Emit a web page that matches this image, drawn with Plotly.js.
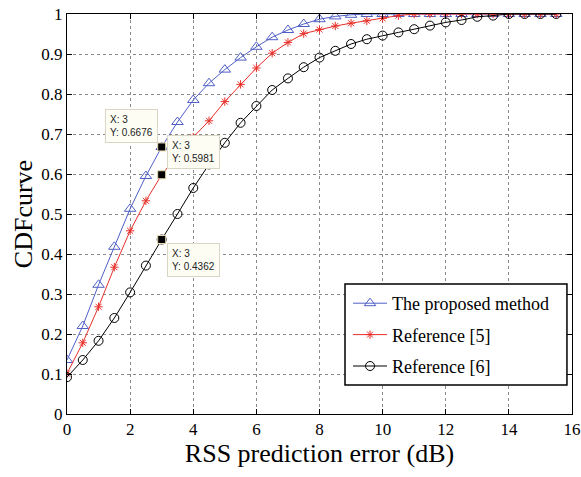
<!DOCTYPE html>
<html>
<head>
<meta charset="utf-8">
<script src="https://cdn.plot.ly/plotly-3.0.1.min.js"></script>
<style>html,body{margin:0;padding:0;background:#fff;}#chart{width:581px;height:477px;}</style>
</head>
<body>
<div id="chart"></div>
<script>
// Data
const errDB = [0,0.5,1,1.5,2,2.5,3,3.5,4,4.5,5,5.5,6,6.5,7,7.5,8,8.5,9,9.5,10,10.5,11,11.5,12,12.5,13,13.5,14,14.5,15,15.5];
const proposed = [0.135,0.220,0.323,0.418,0.513,0.595,0.6676,0.730,0.785,0.827,0.861,0.891,0.918,0.942,0.960,0.975,0.987,0.994,0.998,1,1,1,1,1,1,1,1,1,1,1,1,1];
const ref5 = [0.101,0.178,0.268,0.367,0.458,0.533,0.5981,0.647,0.692,0.733,0.781,0.824,0.865,0.902,0.929,0.951,0.961,0.970,0.977,0.983,0.989,0.996,1,1,1,1,1,1,1,1,1,1];
const ref6 = [0.092,0.135,0.183,0.240,0.304,0.371,0.4362,0.500,0.565,0.624,0.678,0.728,0.770,0.810,0.839,0.867,0.891,0.908,0.925,0.937,0.946,0.954,0.962,0.971,0.979,0.985,0.993,0.996,1,1,1,1];
const seriesNames = ["The proposed method","Reference [5]","Reference [6]"];
const tipX = [3,3,3];
const tipY = [0.6676,0.5981,0.4362];
const xTicks = [0,2,4,6,8,10,12,14,16];
const yTicks = [0,0.1,0.2,0.3,0.4,0.5,0.6,0.7,0.8,0.9,1];

const serif = "Liberation Serif, Times New Roman, serif";

const traces = [
  {x: errDB, y: proposed, name: seriesNames[0], mode: "lines+markers", legendgroup: "a",
   line: {color: "#4f5fc6", width: 1},
   marker: {symbol: "triangle-up-open", size: 10, color: "#4f5fc6", line: {width: 1}}},
  {x: errDB, y: ref5, name: seriesNames[1], mode: "lines+markers", legendgroup: "b",
   line: {color: "#e8302a", width: 1},
   marker: {symbol: "asterisk-open", size: 7, color: "#e8302a", line: {width: 1, color: "#e8302a"}}},
  {x: errDB, y: ref6, name: seriesNames[2], mode: "lines+markers", legendgroup: "c",
   line: {color: "#000000", width: 1},
   marker: {symbol: "circle-open", size: 9, color: "#000000", line: {width: 1}}},
  {x: tipX, y: tipY, mode: "markers", showlegend: false, hoverinfo: "skip",
   marker: {symbol: "square", size: 8, color: "#000000", line: {width: 1, color: "#e8dcb0"}}}
];

function tipText(i){ return "X: " + tipX[i] + "<br>Y: " + tipY[i].toFixed(4); }
const tipStyle = {xref: "x", yref: "y", showarrow: false, align: "left",
  font: {family: "Liberation Sans, Arial, sans-serif", size: 10, color: "#222"},
  bgcolor: "#fdfdf4", bordercolor: "#d9d6c6", borderwidth: 1, borderpad: 4};

const annotations = [
  Object.assign({}, tipStyle, {x: tipX[0], y: tipY[0], text: tipText(0), xanchor: "right", yanchor: "bottom", xshift: -4, yshift: 4}),
  Object.assign({}, tipStyle, {x: tipX[1], y: tipY[1], text: tipText(1), xanchor: "left", yanchor: "bottom", xshift: 5, yshift: 6}),
  Object.assign({}, tipStyle, {x: tipX[2], y: tipY[2], text: tipText(2), xanchor: "left", yanchor: "top", xshift: 5, yshift: -3})
];

const axisCommon = {
  showline: true, linecolor: "#000", linewidth: 1, mirror: "ticks",
  ticks: "inside", ticklen: 5, tickcolor: "#000", tickwidth: 1,
  showgrid: true, gridcolor: "#8a8a8a", griddash: "dot", gridwidth: 1,
  zeroline: false, tickfont: {family: serif, size: 17, color: "#000"}
};

// legend frame (MATLAB-style box, wider than Plotly's auto box)
const legendFrame = {type: "rect", xref: "paper", yref: "paper", layer: "above",
  x0: 0.5505, x1: 0.990, y0: 0.0725, y1: 0.325,
  line: {color: "#000", width: 1.5}, fillcolor: "#fff"};

const layout = {
  width: 581, height: 477,
  margin: {l: 67, r: 9, t: 14, b: 63},
  paper_bgcolor: "#fff", plot_bgcolor: "#fff",
  showlegend: true,
  xaxis: Object.assign({}, axisCommon, {range: [0, 16], tickvals: xTicks, ticktext: xTicks.map(String),
    title: {text: "RSS prediction error (dB)", font: {family: serif, size: 26, color: "#000"}, standoff: 0}}),
  yaxis: Object.assign({}, axisCommon, {range: [0, 1], tickvals: yTicks, ticktext: yTicks.map(String),
    title: {text: "CDFcurve", font: {family: serif, size: 26, color: "#000"}, standoff: 1}}),
  shapes: [legendFrame],
  legend: {x: 0.5565, y: 0.3225, xanchor: "left", yanchor: "top",
    bgcolor: "rgba(0,0,0,0)", borderwidth: 0,
    font: {family: serif, size: 18, color: "#000"},
    itemwidth: 34,
    traceorder: "grouped", tracegroupgap: 5},
  annotations: annotations
};

Plotly.newPlot("chart", traces, layout, {displayModeBar: false, staticPlot: true});
</script>
</body>
</html>
